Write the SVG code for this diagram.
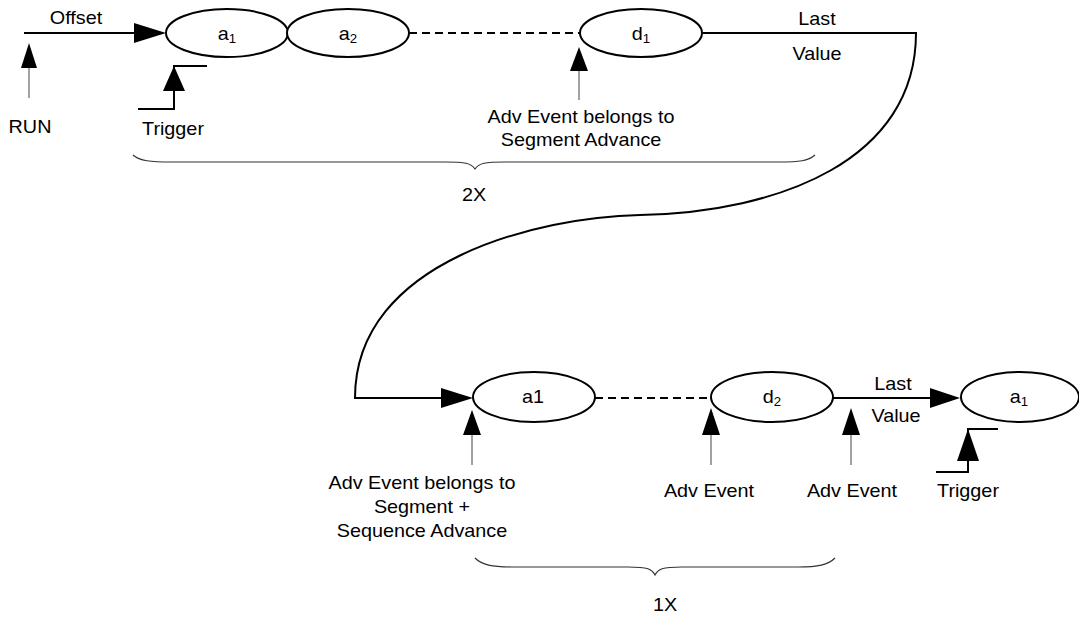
<svg xmlns="http://www.w3.org/2000/svg" width="1079" height="618" viewBox="0 0 1079 618">
<style>
.t{font-family:"Liberation Sans",Arial,sans-serif;font-size:18px;fill:#000;text-anchor:middle}
.sub{font-size:12px}
.node{fill:#fff;stroke:#000;stroke-width:2}
.thick{fill:none;stroke:#000;stroke-width:2}
.dash{fill:none;stroke:#000;stroke-width:2;stroke-dasharray:8 5}
.stem{fill:none;stroke:#444;stroke-width:1}
.brace{fill:none;stroke:#333;stroke-width:1.2}
.head{fill:#000;stroke:none}
</style>
<rect width="1079" height="618" fill="#fff"/>
<g id="connectors">
  <line class="thick" x1="24" y1="33" x2="140" y2="33"/>
  <polygon class="head" points="134,23 166,33 134,43"/>
  <line class="dash" x1="409" y1="33" x2="580" y2="33"/>
  <path class="thick" d="M703,33 H916 C916,160 780,212 640,215 C540,217 355,260 355,398 H445"/>
  <polygon class="head" points="441,388 473,398 441,408"/>
  <line class="dash" x1="595" y1="398" x2="711" y2="398"/>
  <line class="thick" x1="833" y1="398" x2="934" y2="398"/>
  <polygon class="head" points="930,388 960,398 930,408"/>
  <line class="stem" x1="29" y1="66" x2="29" y2="98"/>
  <polygon class="head" points="29,43 37,68 21,68"/>
  <polyline class="thick" points="138,109 174,109 174,66 207,66"/>
  <polygon class="head" points="174,66 185,91 163,91"/>
  <line class="stem" x1="579" y1="69" x2="579" y2="100"/>
  <polygon class="head" points="579,47 588,71 570,71"/>
  <line class="stem" x1="472" y1="433" x2="472" y2="465"/>
  <polygon class="head" points="472,410 481,435 463,435"/>
  <line class="stem" x1="711" y1="433" x2="711" y2="465"/>
  <polygon class="head" points="711,408 720,435 702,435"/>
  <line class="stem" x1="851" y1="433" x2="851" y2="465"/>
  <polygon class="head" points="851,408 860,435 842,435"/>
  <polyline class="thick" points="936,472 968,472 968,429 998,429"/>
  <polygon class="head" points="968,429 979,461 957,461"/>
  <path class="brace" d="M133,155 C140,161 150,162 172,162 L445,162 C465,162 471,163 475,169 C479,163 485,162 505,162 L778,162 C800,162 808,161 815,155"/>
  <path class="brace" d="M475,558 C482,565 492,567 512,567 L628,567 C648,567 652,569 655,575 C658,569 662,567 682,567 L798,567 C818,567 828,565 835,558"/>
</g>
<g id="node-a1-top">
  <ellipse class="node" cx="227" cy="33" rx="61" ry="24"/>
  <text class="t" transform="translate(227,40) scale(1.1,1)">a<tspan class="sub" dy="3">1</tspan></text>
</g>
<g id="node-a2-top">
  <ellipse class="node" cx="348" cy="33" rx="61" ry="24"/>
  <text class="t" transform="translate(348,40) scale(1.1,1)">a<tspan class="sub" dy="3">2</tspan></text>
</g>
<g id="node-d1">
  <ellipse class="node" cx="641" cy="33" rx="61" ry="24"/>
  <text class="t" transform="translate(641,40) scale(1.1,1)">d<tspan class="sub" dy="3">1</tspan></text>
</g>
<g id="node-a1-bottom">
  <ellipse class="node" cx="534" cy="397" rx="61" ry="25"/>
  <text class="t" transform="translate(533,403) scale(1.1,1)">a1</text>
</g>
<g id="node-d2">
  <ellipse class="node" cx="772" cy="397" rx="61" ry="25"/>
  <text class="t" transform="translate(772,403) scale(1.1,1)">d<tspan class="sub" dy="3">2</tspan></text>
</g>
<g id="node-a1-right">
  <ellipse class="node" cx="1020" cy="397" rx="59" ry="25"/>
  <text class="t" transform="translate(1019,403) scale(1.1,1)">a<tspan class="sub" dy="3">1</tspan></text>
</g>
<g id="labels">
  <text class="t" transform="translate(76,24) scale(1.1,1)">Offset</text>
  <text class="t" transform="translate(30,133) scale(1.1,1)">RUN</text>
  <text class="t" transform="translate(173,135) scale(1.1,1)">Trigger</text>
  <text class="t" transform="translate(581,123) scale(1.1,1)">Adv Event belongs to</text>
  <text class="t" transform="translate(581,146) scale(1.1,1)">Segment Advance</text>
  <text class="t" transform="translate(817,25) scale(1.1,1)">Last</text>
  <text class="t" transform="translate(817,60) scale(1.1,1)">Value</text>
  <text class="t" transform="translate(474,201) scale(1.1,1)">2X</text>
  <text class="t" transform="translate(422,489) scale(1.1,1)">Adv Event belongs to</text>
  <text class="t" transform="translate(422,513) scale(1.1,1)">Segment +</text>
  <text class="t" transform="translate(422,537) scale(1.1,1)">Sequence Advance</text>
  <text class="t" transform="translate(709,497) scale(1.1,1)">Adv Event</text>
  <text class="t" transform="translate(852,497) scale(1.1,1)">Adv Event</text>
  <text class="t" transform="translate(893,390) scale(1.1,1)">Last</text>
  <text class="t" transform="translate(896,422) scale(1.1,1)">Value</text>
  <text class="t" transform="translate(968,497) scale(1.1,1)">Trigger</text>
  <text class="t" transform="translate(665,611) scale(1.1,1)">1X</text>
</g>
</svg>
